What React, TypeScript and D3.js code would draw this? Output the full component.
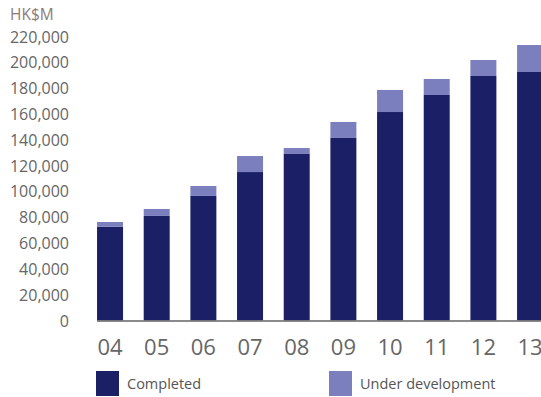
import React from "react";
import * as d3 from "d3";

const years = ["04", "05", "06", "07", "08", "09", "10", "11", "12", "13"];
const completed = [72700, 81000, 96500, 115000, 129000, 141400, 161500, 174700, 189400, 192500];
const underDev = [3600, 5400, 7700, 12400, 4600, 12400, 17100, 12400, 12400, 20900];
const yTicks = [0, 20000, 40000, 60000, 80000, 100000, 120000, 140000, 160000, 180000, 200000, 220000];
const seriesNames = ["Completed", "Under development"];
const colors = ["#1b2066", "#7b7fbe"];

const W = 541;
const H = 397;

export default function App() {
  React.useEffect(() => {
    document.body.style.margin = "0";
  }, []);

  const x = d3
    .scaleBand<string>()
    .domain(years)
    .range([86.7, 553.4])
    .paddingInner(0.443)
    .paddingOuter(0.2215);
  const y = d3.scaleLinear().domain([0, 220000]).range([320.5, 36.5]);
  const fmt = d3.format(",");
  const font = "'Open Sans', sans-serif";

  const stackData = years.map((yr, i) => ({ yr, c: completed[i], u: underDev[i] }));
  const stack = d3.stack<any>().keys(["c", "u"])(stackData);

  const lineX0 = x(years[0]) as number;

  return (
    <svg width={W} height={H} style={{ display: "block" }} fontFamily={font}>
      <text x={10} y={14} dominantBaseline="central" fontSize={15.5} fill="#8c7b75">
        HK$M
      </text>
      {yTicks.map((t) => (
        <text
          key={t}
          x={69}
          y={y(t)}
          textAnchor="end"
          dominantBaseline="central"
          fontSize={16}
          fill="#666"
        >
          {fmt(t)}
        </text>
      ))}
      {stack.map((s, si) =>
        s.map((d, i) => (
          <rect
            key={si + "-" + i}
            x={x(years[i])}
            width={x.bandwidth()}
            y={y(d[1])}
            height={y(d[0]) - y(d[1])}
            fill={colors[si]}
          />
        ))
      )}
      <line
        x1={lineX0}
        x2={W + 20}
        y1={321}
        y2={321}
        stroke="#6d6d6d"
        strokeOpacity={0.8}
        strokeWidth={2}
      />
      {years.map((yr) => (
        <text
          key={yr}
          x={(x(yr) as number) + x.bandwidth() / 2}
          y={346}
          textAnchor="middle"
          dominantBaseline="central"
          fontSize={22}
          fill="#666"
        >
          {yr}
        </text>
      ))}
      {seriesNames.map((n, i) => {
        const lx = i === 0 ? 96 : 329;
        return (
          <g key={n}>
            <rect x={lx} y={371} width={23} height={25} fill={colors[i]} />
            <text x={lx + 31} y={383} dominantBaseline="central" fontSize={14.5} fill="#555">
              {n}
            </text>
          </g>
        );
      })}
    </svg>
  );
}
